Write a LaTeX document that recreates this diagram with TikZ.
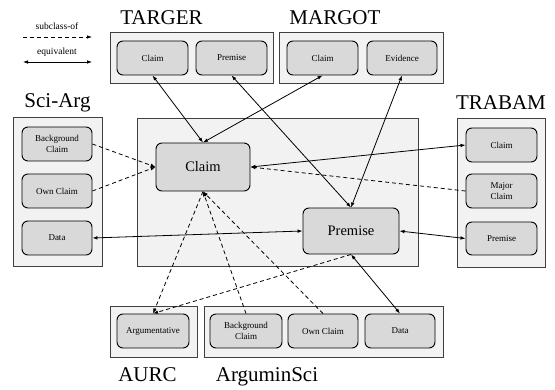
\documentclass[tikz,border=0pt]{standalone}
\usepackage{fontspec}
\setmainfont{Liberation Serif}
\usetikzlibrary{arrows.meta}
\definecolor{outerfill}{HTML}{F2F2F2}
\definecolor{innerfill}{HTML}{D9D9D9}
\definecolor{outerline}{HTML}{404040}
\tikzset{
  outerbox/.style={draw=outerline, line width=0.8pt, fill=outerfill, inner sep=0pt},
  inbox/.style={draw=black, line width=0.9pt, fill=innerfill, rounded corners=6pt, inner sep=0pt,
    align=center, font=\fontsize{9}{10.5}\selectfont, minimum width=71pt, minimum height=34pt},
  bigbox/.style={inbox, font=\fontsize{14.5}{16}\selectfont},
  title/.style={anchor=base, inner sep=0pt, font=\fontsize{21}{24}\selectfont},
  legtext/.style={anchor=base, inner sep=0pt, font=\fontsize{9.5}{11}\selectfont},
  equiv/.style={line width=0.8pt, {Latex[length=5pt,width=3.6pt]}-{Latex[length=5pt,width=3.6pt]}},
  subcl/.style={line width=0.8pt, dash pattern=on 4pt off 3pt, -{Latex[length=5pt,width=3.6pt]}},
}
\begin{document}
\begin{tikzpicture}[x=1pt,y=-1pt]
\useasboundingbox (0,0) rectangle (555,390);
% legend
\node[legtext] (lsub) at (57,30) {subclass-of};
\coordinate (ls1) at (23,37); \coordinate (ls2) at (92,37);
\draw[subcl] (ls1) -- (ls2);
\node[legtext] (leq) at (57,55) {equivalent};
\coordinate (le1) at (23,62); \coordinate (le2) at (92,62);
\draw[equiv] (le1) -- (le2);
% titles
\node[title] (tTARGER) at (161.5,25) {TARGER};
\node[title] (tMARGOT) at (335,25) {MARGOT};
\node[title] (tTRABAM) at (501,110) {TRABAM};
\node[title] (tSciArg) at (57.5,108) {Sci-Arg};
\node[title] (tAURC) at (147.5,382) {AURC};
\node[title] (tArgumin) at (267,382) {ArguminSci};
% outer boxes
\node[outerbox, minimum width=163pt, minimum height=51pt] (TARGER) at (191.5,57.5) {};
\node[outerbox, minimum width=164pt, minimum height=51pt] (MARGOT) at (361,57.5) {};
\node[outerbox, minimum width=89pt, minimum height=149pt] (SciArg) at (57.5,191.5) {};
\node[outerbox, minimum width=281pt, minimum height=148pt] (Central) at (277.5,192) {};
\node[outerbox, minimum width=88pt, minimum height=149pt] (TRABAM) at (501,192.5) {};
\node[outerbox, minimum width=87pt, minimum height=51pt] (AURC) at (153.5,332) {};
\node[outerbox, minimum width=239pt, minimum height=51pt] (Argumin) at (323.5,332) {};
% inner nodes
\node[inbox] (tClaim) at (152.5,58) {Claim};
\node[inbox] (tPremise) at (231.5,58) {Premise};
\node[inbox] (mClaim) at (322.5,58) {Claim};
\node[inbox, minimum width=70pt] (mEvidence) at (402,58) {Evidence};
\node[inbox, minimum width=70pt] (sBG) at (57,144) {Background\\Claim};
\node[inbox, minimum width=70pt] (sOwn) at (57,191) {Own Claim};
\node[inbox, minimum width=70pt] (sData) at (57,238) {Data};
\node[bigbox, minimum width=94pt, minimum height=48pt] (cClaim) at (203,167) {Claim};
\node[bigbox, minimum width=96pt, minimum height=46pt] (cPremise) at (351,231) {Premise};
\node[inbox] (rClaim) at (501.5,145) {Claim};
\node[inbox] (rMajor) at (501.5,191) {Major\\Claim};
\node[inbox, minimum height=33pt] (rPremise) at (501.5,238.5) {Premise};
\node[inbox, minimum width=72pt] (aArg) at (153,331) {Argumentative};
\node[inbox, minimum width=72pt] (gBG) at (246,331) {Background\\Claim};
\node[inbox, minimum width=70pt] (gOwn) at (323,331) {Own Claim};
\node[inbox, minimum width=70pt] (gData) at (400,331) {Data};
% connectors
\draw[equiv] (tClaim.south) -- (cClaim.north);
\draw[equiv] (mClaim.south) -- (cClaim.north);
\draw[equiv] (tPremise.south) -- (cPremise.north);
\draw[equiv] (mEvidence.south) -- (cPremise.north);
\draw[equiv] (cClaim.east) -- (rClaim.west);
\draw[subcl] (rMajor.west) -- (cClaim.east);
\draw[subcl] (sBG.east) -- (cClaim.west);
\draw[subcl] (sOwn.east) -- (cClaim.west);
\draw[equiv] (sData.east) -- (cPremise.west);
\draw[equiv] (rPremise.west) -- (cPremise.east);
\draw[subcl] (cClaim.south) -- (aArg.north);
\draw[subcl] (cPremise.south) -- (aArg.north);
\draw[subcl] (gBG.north) -- (cClaim.south);
\draw[subcl] (gOwn.north) -- (cClaim.south);
\draw[equiv] (cPremise.south) -- (gData.north);
\end{tikzpicture}
\end{document}
